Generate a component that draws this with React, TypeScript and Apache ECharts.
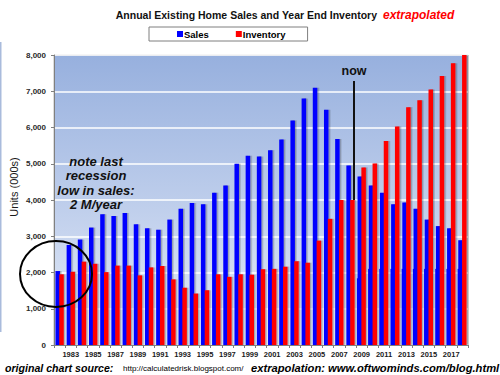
import React, { useEffect, useRef } from "react";
import * as echarts from "echarts";

const years = [
  "1982", "1983", "1984", "1985", "1986", "1987", "1988", "1989", "1990", "1991",
  "1992", "1993", "1994", "1995", "1996", "1997", "1998", "1999", "2000", "2001",
  "2002", "2003", "2004", "2005", "2006", "2007", "2008", "2009", "2010", "2011",
  "2012", "2013", "2014", "2015", "2016", "2017", "2018",
];

// Annual existing home sales (000s), as drawn (incl. pasted bars after 2008)
const sales = [
  2040, 2760, 2910, 3240, 3610, 3560, 3640, 3330, 3220, 3180,
  3460, 3760, 3920, 3880, 4200, 4400, 5000, 5220, 5200, 5370,
  5670, 6190, 6800, 7100, 6490, 5680, 4950, 4650, 4400, 4200,
  3880, 3930, 3760, 3460, 3280, 3220, 2890,
];

// Extrapolated sales at the recession low (~2 M/year), 2009 onward
const salesExtrapolated = [
  null, null, null, null, null, null, null, null, null, null,
  null, null, null, null, null, null, null, null, null, null,
  null, null, null, null, null, null, null, 1840, 2100, 2100,
  2100, 2100, 2100, 2100, 2100, 2100, 2100,
];

// Year end inventory (000s)
const inventory = [
  1950, 2020, 2300, 2240, 2010, 2190, 2190, 1920, 2140, 2180,
  1810, 1580, 1420, 1510, 1950, 1880, 1950, 1940, 2090, 2100,
  2160, 2310, 2270, 2880, 3480, 4000, 4000, 4900, 5010, 5630,
  6030, 6560, 6750, 7050, 7420, 7770, 8000,
];

const yTicks = [0, 1000, 2000, 3000, 4000, 5000, 6000, 7000, 8000];

const FONT = 'Arial, "Liberation Sans", sans-serif';

export default function App() {
  const ref = useRef<HTMLDivElement>(null);

  useEffect(() => {
    document.body.style.margin = "0";
    if (!ref.current) return;
    const chart = echarts.init(ref.current, null, { renderer: "svg" });
    const shadow = {
      shadowColor: "rgba(40,40,40,0.35)",
      shadowBlur: 1,
      shadowOffsetX: 1.5,
      shadowOffsetY: 0,
    };
    chart.setOption({
      animation: false,
      backgroundColor: "#ffffff",
      textStyle: { fontFamily: FONT },
      grid: {
        left: 54,
        right: 32,
        top: 55,
        bottom: 30,
        containLabel: false,
        outerBoundsMode: "none",
        show: true,
        borderWidth: 1,
        borderColor: "#b8b8b8",
        backgroundColor: {
          type: "linear",
          x: 0,
          y: 0,
          x2: 0,
          y2: 1,
          colorStops: [
            { offset: 0, color: "#97b0de" },
            { offset: 0.5, color: "#bdcdeb" },
            { offset: 1, color: "#e6edf8" },
          ],
        },
      },
      legend: {
        left: 149,
        top: 27,
        orient: "horizontal",
        icon: "rect",
        itemWidth: 6,
        itemHeight: 6,
        itemGap: 27,
        padding: [2, 22, 2, 28],
        borderColor: "#7f7f7f",
        borderWidth: 1,
        backgroundColor: "#ffffff",
        selectedMode: false,
        data: ["Sales", "Inventory"],
        textStyle: {
          fontSize: 9.5,
          fontWeight: "bold",
          color: "#000",
          fontFamily: FONT,
          padding: [0, 0, 0, -4],
        },
      },
      xAxis: [
        {
          type: "category",
          data: years,
          boundaryGap: true,
          axisLine: { show: true, lineStyle: { color: "#808080", width: 1 } },
          axisTick: { show: true, interval: 0, length: 3, lineStyle: { color: "#808080" } },
          axisLabel: {
            interval: (idx: number) => idx % 2 === 1,
            fontSize: 7.5,
            fontWeight: "bold",
            color: "#1a1a1a",
            margin: 5,
            fontFamily: FONT,
          },
          splitLine: { show: false },
        },
        {
          type: "category",
          data: years,
          show: false,
          boundaryGap: true,
        },
      ],
      yAxis: {
        type: "value",
        min: 0,
        max: 8000,
        interval: 1000,
        axisLine: { show: true, lineStyle: { color: "#808080", width: 1 } },
        axisTick: { show: true, length: 3, lineStyle: { color: "#808080" } },
        axisLabel: {
          fontSize: 8,
          fontWeight: "bold",
          color: "#2a2a2a",
          margin: 8,
          fontFamily: FONT,
          formatter: (v: number) => (yTicks.includes(v) ? v.toLocaleString("en-US") : ""),
        },
        splitLine: { show: true, lineStyle: { color: "#ffffff", width: 1.5 } },
      },
      series: [
        {
          name: "Sales",
          type: "bar",
          xAxisIndex: 0,
          data: sales,
          barWidth: 4.5,
          barGap: "-15%",
          itemStyle: { color: "#0000ff", ...shadow },
          z: 3,
        },
        {
          name: "Inventory",
          type: "bar",
          xAxisIndex: 0,
          data: inventory,
          barWidth: 4.5,
          barGap: "-15%",
          itemStyle: { color: "#ff0000", ...shadow },
          z: 3,
        },
        {
          name: "Sales (extrapolated)",
          type: "bar",
          xAxisIndex: 1,
          data: salesExtrapolated,
          barWidth: 6,
          barGap: "-15%",
          itemStyle: { color: "#0000ff" },
          z: 2,
        },
        {
          name: "placeholder",
          type: "bar",
          xAxisIndex: 1,
          data: [],
          barWidth: 4.5,
          barGap: "-15%",
          silent: true,
        },
      ],
      graphic: [
        {
          type: "rect",
          shape: { x: 0, y: 42, width: 1.5, height: 290 },
          style: { fill: "#a9bbdc" },
          silent: true,
        },
        {
          type: "text",
          x: 377,
          y: 15,
          style: {
            text: "Annual Existing Home Sales and Year End Inventory",
            font: `bold 10.5px ${FONT}`,
            fill: "#111",
            textAlign: "right",
            textVerticalAlign: "middle",
          },
        },
        {
          type: "text",
          x: 383,
          y: 15,
          style: {
            text: "extrapolated",
            font: `italic bold 12px ${FONT}`,
            fill: "#ff0000",
            textAlign: "left",
            textVerticalAlign: "middle",
          },
        },
        {
          type: "text",
          x: 14,
          y: 187,
          rotation: Math.PI / 2,
          style: {
            text: "Units (000s)",
            font: `11px ${FONT}`,
            fill: "#1a1a1a",
            textAlign: "center",
            textVerticalAlign: "middle",
          },
        },
        {
          type: "text",
          x: 96,
          y: 183,
          z: 10,
          style: {
            text: "note last\nrecession\nlow in sales:\n2 M/year",
            font: `italic bold 13px ${FONT}`,
            lineHeight: 14.5,
            fill: "#111",
            textAlign: "center",
            textVerticalAlign: "middle",
          },
        },
        {
          type: "ellipse",
          z: 10,
          shape: { cx: 56, cy: 274, rx: 36, ry: 33 },
          style: { fill: "none", stroke: "#000", lineWidth: 2 },
        },
        {
          type: "text",
          x: 354,
          y: 71,
          z: 10,
          style: {
            text: "now",
            font: `bold 12.5px ${FONT}`,
            fill: "#111",
            textAlign: "center",
            textVerticalAlign: "middle",
          },
        },
        {
          type: "line",
          z: 10,
          shape: { x1: 354, y1: 81, x2: 354, y2: 200 },
          style: { stroke: "#111", lineWidth: 2 },
        },
        {
          type: "text",
          x: 5,
          y: 368,
          style: {
            text: "original chart source:",
            font: `italic bold 10.6px ${FONT}`,
            fill: "#000",
            textAlign: "left",
            textVerticalAlign: "middle",
          },
        },
        {
          type: "text",
          x: 123,
          y: 368,
          style: {
            text: "http://calculatedrisk.blogspot.com/",
            font: `8px ${FONT}`,
            fill: "#000",
            textAlign: "left",
            textVerticalAlign: "middle",
          },
        },
        {
          type: "text",
          x: 251,
          y: 368,
          style: {
            text: "extrapolation: www.oftwominds.com/blog.html",
            font: `italic bold 11.2px ${FONT}`,
            fill: "#000",
            textAlign: "left",
            textVerticalAlign: "middle",
          },
        },
      ],
    });
    return () => chart.dispose();
  }, []);

  return (
    <div
      ref={ref}
      style={{ width: 500, height: 375, position: "fixed", left: 0, top: 0 }}
    />
  );
}
